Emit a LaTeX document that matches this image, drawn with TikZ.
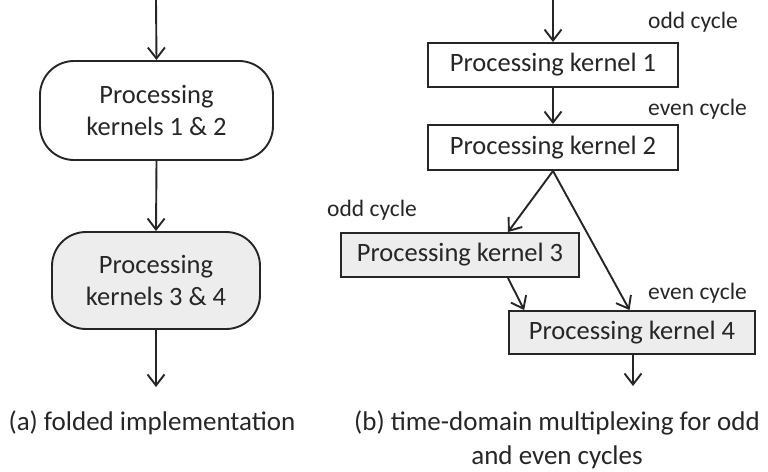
\documentclass[tikz,border=0pt]{standalone}
\usepackage{fontspec}
\setmainfont{Carlito}
\usetikzlibrary{arrows.meta,calc}
\definecolor{ink}{HTML}{262626}
\definecolor{shade}{HTML}{EDEDED}
\tikzset{
  flow/.style={draw=ink, line width=1.9pt, -{Straight Barb[length=11pt,width=17pt,line width=1.9pt]}},
  kernelbox/.style={draw=ink, line width=1.9pt, inner sep=0pt, text=ink,
    font=\fontsize{26.5}{32}\selectfont, align=center},
  roundbox/.style={kernelbox, rounded corners=34pt},
  cyclelabel/.style={anchor=west, inner sep=0pt, text=ink, font=\fontsize{23.5}{28}\selectfont},
  caption/.style={inner sep=0pt, text=ink, align=center, font=\fontsize{27}{34}\selectfont}
}
\begin{document}
\begin{tikzpicture}[x=1pt,y=-1pt]
\useasboundingbox (0,0) rectangle (768,471);

% (a) folded implementation
\coordinate (ain) at (156,0);
\node[roundbox, fill=white, minimum width=233pt, minimum height=99pt] (k12) at (156.5,110.5)
  {Processing\\kernels 1 \& 2};
\node[roundbox, fill=shade, minimum width=208pt, minimum height=97pt] (k34) at (156,280.5)
  {Processing\\kernels 3 \& 4};
\coordinate (aout) at (156,387);
\draw[flow] (ain) -- (k12.north);
\draw[flow] (k12.south) -- (k34.north);
\draw[flow] (k34.south) -- (aout);
\node[caption] (capa) at (152,423) {(a) folded implementation};

% (b) time-domain multiplexing
\coordinate (bin) at (553,0);
\node[kernelbox, fill=white, minimum width=250pt, minimum height=44pt] (p1) at (553,65) {Processing kernel 1};
\node[kernelbox, fill=white, minimum width=250pt, minimum height=45pt] (p2) at (553,147.5) {Processing kernel 2};
\node[kernelbox, fill=shade, minimum width=238pt, minimum height=44pt] (p3) at (460,255) {Processing kernel 3};
\node[kernelbox, fill=shade, minimum width=246pt, minimum height=43pt] (p4) at (632,332.5) {Processing kernel 4};
\coordinate (bout) at (633,386);

\draw[flow] (bin) -- (p1.north);
\draw[flow] (p1.south) -- (p2.north);
\draw[flow] (p2.south) -- ($(p3.north west)!0.70!(p3.north east)$);
\draw[flow] (p2.south) -- ($(p4.north west)!0.49!(p4.north east)$);
\draw[flow] ($(p3.south west)!0.70!(p3.south east)$) -- ($(p4.north west)!0.065!(p4.north east)$);
\draw[flow] (p4.south -| bout) -- (bout);

\node[cyclelabel] (c1) at (648,22) {odd cycle};
\node[cyclelabel] (c2) at (648,109) {even cycle};
\node[cyclelabel] (c3) at (327,210) {odd cycle};
\node[cyclelabel] (c4) at (648,293) {even cycle};

\node[caption] (capb) at (557,440) {(b) time-domain multiplexing for odd\\and even cycles};
\end{tikzpicture}
\end{document}
